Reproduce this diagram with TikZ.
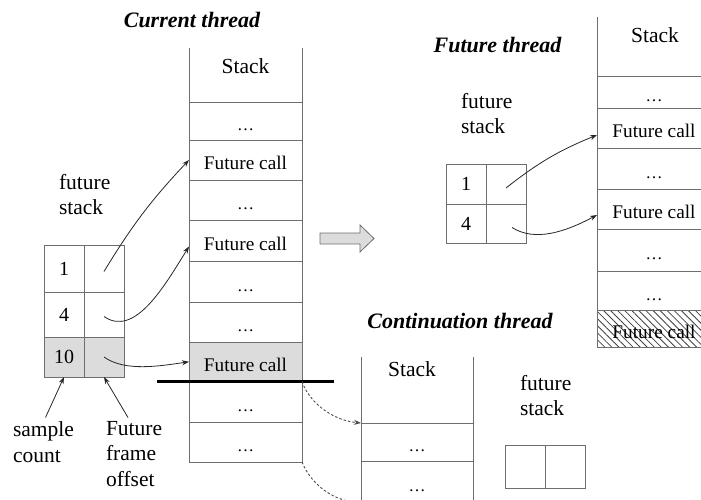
\documentclass[tikz,border=0pt]{standalone}
\usepackage{fontspec}
\setmainfont{Liberation Serif}
\usetikzlibrary{arrows.meta,patterns.meta}
\definecolor{linec}{HTML}{6E6E6E}
\definecolor{shadec}{HTML}{DCDCDC}
\newcommand\cellfnt{\fontsize{19.3}{22}\selectfont}
\newcommand\lblfnt{\fontsize{21.5}{25.5}\selectfont}
\newcommand\ttlfnt{\fontsize{22}{26}\selectfont\bfseries\itshape}
\newcommand\numfnt{\fontsize{20}{24}\selectfont}
\newcommand\dotsfnt{\fontsize{17}{20}\selectfont}
\begin{document}
\begin{tikzpicture}[x=1pt,y=-1pt,
  cell/.style={draw=linec,line width=1pt,inner sep=0pt,outer sep=0pt,anchor=north west,
    font=\cellfnt,text height=19pt,text depth=0pt},
  hdr/.style={draw=none,inner sep=0pt,outer sep=0pt,anchor=north west},
  tcell/.style={draw=linec,line width=1pt,inner sep=0pt,outer sep=0pt,anchor=north west,
    minimum width=40pt,font=\numfnt},
  lbl/.style={align=left,inner sep=0pt,outer sep=0pt,anchor=north west,font=\lblfnt},
  ttl/.style={inner sep=0pt,anchor=base,font=\ttlfnt},
  stk/.style={inner sep=0pt,anchor=base,font=\lblfnt},
  sline/.style={draw=linec,line width=1pt},
  conn/.style={-{Stealth[length=7pt,width=5pt]},line width=0.8pt,black!85},
  dconn/.style={line width=0.9pt,black!70,dash pattern=on 2.5pt off 2pt},
  shaded/.style={fill=shadec},
  hatched/.style={pattern={Lines[angle=-45,distance=5pt,line width=0.8pt]},pattern color=black!75},
]
\useasboundingbox (0,0) rectangle (701,499);

% ---------- Current thread ----------
\node[ttl] (t1) at (192,27) {Current thread};
\node[hdr,minimum width=113pt,minimum height=54pt] (ch) at (189,48) {};
\draw[sline] (ch.north west) -- (ch.south west) (ch.north east) -- (ch.south east);
\node[stk] (s1) at (245.5,73) {Stack};
\node[cell,minimum width=113pt,minimum height=38pt] (cr1) at (189,102) {\dotsfnt …};
\node[cell,minimum width=113pt,minimum height=40pt] (cr2) at (189,140) {Future call};
\node[cell,minimum width=113pt,minimum height=40pt] (cr3) at (189,180) {\dotsfnt …};
\node[cell,minimum width=113pt,minimum height=41pt] (cr4) at (189,220) {Future call};
\node[cell,minimum width=113pt,minimum height=41pt] (cr5) at (189,261) {\dotsfnt …};
\node[cell,minimum width=113pt,minimum height=40pt] (cr6) at (189,302) {\dotsfnt …};
\node[cell,shaded,minimum width=113pt,minimum height=39.5pt] (cr7) at (189,342) {Future call};
\node[cell,minimum width=113pt,minimum height=40.5pt] (cr8) at (189,381.5) {\dotsfnt …};
\node[cell,minimum width=113pt,minimum height=40pt] (cr9) at (189,422) {\dotsfnt …};

\coordinate (tl1) at (157,381.5);
\coordinate (tl2) at (334,381.5);
\draw[line width=3pt,black] (tl1) -- (tl2);

% future stack table (current)
\node[lbl] (fs1) at (59,174) {future\\stack};
\node[tcell,minimum height=47pt] (fa1) at (44,245) {1};
\node[tcell,minimum height=47pt] (fb1) at (84,245) {};
\node[tcell,minimum height=45pt] (fa2) at (44,292) {4};
\node[tcell,minimum height=45pt] (fb2) at (84,292) {};
\node[tcell,shaded,minimum height=40pt] (fa3) at (44,337) {10};
\node[tcell,shaded,minimum height=40pt] (fb3) at (84,337) {};

\node[lbl] (sc) at (13,422) {sample\\count};
\node[lbl] (ff) at (106,421) {Future\\frame\\offset};

\draw[conn] ([yshift=-3pt]fb1.center) to[bend left=6] (cr2.west);
\draw[conn] ([yshift=-2pt]fb2.center) .. controls (135,338) and (165,285) .. ([yshift=-6pt]cr4.west);
\draw[conn] (fb3.center) .. controls (125,372) and (160,366) .. (cr7.west);
\draw[conn,shorten <=5pt] (sc.north) -- (fa3.south);
\draw[conn,shorten <=4pt] ([xshift=-4pt]ff.north) -- (fb3.south);

% ---------- transfer arrow ----------
\draw[fill=shadec,draw=linec,line width=0.8pt]
  (320,233) -- (360,233) -- (360,225) -- (374,238.5) -- (360,252) -- (360,244) -- (320,244) -- cycle;

% ---------- Future thread ----------
\node[ttl] (t2) at (497.5,52) {Future thread};
\node[hdr,minimum width=114pt,minimum height=59pt] (gh) at (597,17) {};
\draw[sline] (gh.north west) -- (gh.south west) (gh.north east) -- (gh.south east);
\node[stk] (s2) at (655,42) {Stack};
\node[cell,minimum width=114pt,minimum height=32pt] (gr1) at (597,76) {\dotsfnt …};
\node[cell,minimum width=114pt,minimum height=40pt] (gr2) at (597,108) {Future call};
\node[cell,minimum width=114pt,minimum height=41pt] (gr3) at (597,148) {\dotsfnt …};
\node[cell,minimum width=114pt,minimum height=40pt] (gr4) at (597,189) {Future call};
\node[cell,minimum width=114pt,minimum height=42pt] (gr5) at (597,229) {\dotsfnt …};
\node[cell,minimum width=114pt,minimum height=39pt] (gr6) at (597,271) {\dotsfnt …};
\node[cell,hatched,minimum width=114pt,minimum height=37pt] (gr7) at (597,310) {Future call};

\node[lbl] (fs2) at (461,93) {future\\stack};
\node[tcell,minimum height=40pt] (ga1) at (446,164) {1};
\node[tcell,minimum height=40pt] (gb1) at (486,164) {};
\node[tcell,minimum height=39pt] (ga2) at (446,204) {4};
\node[tcell,minimum height=39pt] (gb2) at (486,204) {};

\draw[conn] ([yshift=-4pt]gb1.center) to[bend left=8] ([yshift=-7pt]gr2.west);
\draw[conn] ([xshift=6pt,yshift=-4pt]gb2.center) .. controls (535,242) and (565,232) .. ([yshift=-6pt]gr4.west);

% ---------- Continuation thread ----------
\node[ttl] (t3) at (460,328) {Continuation thread};
\node[hdr,minimum width=112pt,minimum height=66pt] (kh) at (361,357) {};
\draw[sline] (kh.north west) -- (kh.south west) (kh.north east) -- (kh.south east);
\node[stk] (s3) at (412,376) {Stack};
\node[cell,minimum width=112pt,minimum height=38pt] (cc1) at (361,423) {\dotsfnt …};
\node[cell,minimum width=112pt,minimum height=42pt] (cc2) at (361,461) {\dotsfnt …};

\node[lbl] (fs3) at (520,375) {future\\stack};
\node[tcell,minimum height=43pt] (ka1) at (505,445) {};
\node[tcell,minimum height=43pt] (kb1) at (545,445) {};

\draw[dconn,-{Stealth[length=7pt,width=5pt]}] (cr7.south east) .. controls (308,400) and (330,420) .. (cc1.north west);
\draw[dconn,-{Stealth[length=7pt,width=5pt]}] (cr9.south east) .. controls (310,482) and (330,500) .. (cc2.south west);
\end{tikzpicture}
\end{document}
